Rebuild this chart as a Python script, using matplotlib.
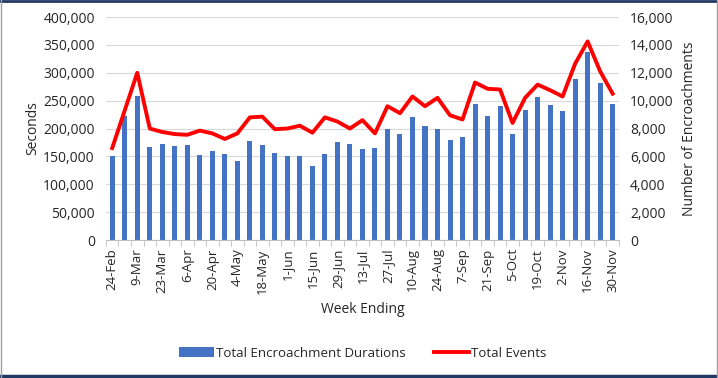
import numpy as np
import matplotlib.pyplot as plt
from matplotlib.lines import Line2D

weeks = ['24-Feb', '2-Mar', '9-Mar', '16-Mar', '23-Mar', '30-Mar', '6-Apr', '13-Apr',
         '20-Apr', '27-Apr', '4-May', '11-May', '18-May', '25-May', '1-Jun', '8-Jun',
         '15-Jun', '22-Jun', '29-Jun', '6-Jul', '13-Jul', '20-Jul', '27-Jul', '3-Aug',
         '10-Aug', '17-Aug', '24-Aug', '31-Aug', '7-Sep', '14-Sep', '21-Sep', '28-Sep',
         '5-Oct', '12-Oct', '19-Oct', '26-Oct', '2-Nov', '9-Nov', '16-Nov', '23-Nov', '30-Nov']

durations = [150000, 222000, 258000, 166000, 172500, 169500, 170000, 152000,
             159000, 155000, 142000, 177500, 171000, 156500, 151500, 150500,
             133000, 154500, 176000, 172500, 164000, 165500, 199000, 190500,
             220000, 204000, 199500, 180000, 184000, 243500, 222500, 241000,
             190500, 233000, 257000, 242000, 232000, 288000, 338000, 281500, 244500]

events = [6600, 9300, 12000, 8000, 7750, 7600, 7550, 7850,
          7650, 7250, 7650, 8800, 8850, 7950, 8000, 8200,
          7700, 8800, 8500, 8000, 8600, 7650, 9600, 9100,
          10300, 9600, 10200, 8950, 8650, 11300, 10850, 10800,
          8400, 10200, 11150, 10750, 10300, 12650, 14250, 12100, 10500]

plt.rcParams['font.family'] = ['Open Sans', 'DejaVu Sans']

fig = plt.figure(figsize=(7.18, 3.78), dpi=100)
ax = fig.add_axes([0.1476, 0.365, 0.7144, 0.59])
ax2 = ax.twinx()

x = np.arange(len(weeks))
ax.bar(x, durations, width=0.4, color='#4472C4', label='Total Encroachment Durations', zorder=2)
ax2.plot(x, events, color='#FF0000', lw=2.8, label='Total Events', zorder=3)

ax.set_xlim(-0.5, len(weeks) - 0.5)
ax.set_ylim(0, 400000)
ax2.set_ylim(0, 16000)
ax.set_yticks(np.arange(0, 400001, 50000))
ax2.set_yticks(np.arange(0, 16001, 2000))
ax.yaxis.set_major_formatter(plt.FuncFormatter(lambda v, p: f'{int(v):,}'))
ax2.yaxis.set_major_formatter(plt.FuncFormatter(lambda v, p: f'{int(v):,}'))
ax.grid(axis='y', color='#D9D9D9', lw=0.8, zorder=0)
ax.set_axisbelow(True)

# labels every second week, tick marks between every category
ax.set_xticks(x[::2])
ax.set_xticklabels(weeks[::2], rotation=90, fontsize=9.5)
ax.set_xticks(np.arange(-0.5, len(weeks), 1), minor=True)
for a in (ax, ax2):
    for s in ['top', 'left', 'right']:
        a.spines[s].set_visible(False)
    a.tick_params(axis='y', length=0, labelsize=10, colors='#262626', pad=8)
ax.spines['bottom'].set_color('#BFBFBF')
ax2.spines['bottom'].set_visible(False)
ax.tick_params(axis='x', which='major', length=0, labelcolor='#262626', pad=6)
ax.tick_params(axis='x', which='minor', length=4, color='#BFBFBF')

ax.set_ylabel('Seconds', fontsize=10, color='#262626', labelpad=2)
ax2.set_ylabel('Number of Encroachments', fontsize=10, color='#262626', labelpad=6)
ax.set_xlabel('Week Ending', fontsize=10, color='#262626', labelpad=6)

h1, l1 = ax.get_legend_handles_labels()
h2, l2 = ax2.get_legend_handles_labels()
fig.legend(h1 + h2, l1 + l2, loc='center', bbox_to_anchor=(0.505, 0.066), ncol=2,
           frameon=False, fontsize=9.5, handlelength=2.6, handletextpad=0.15,
           columnspacing=2.2, labelcolor='#262626')

# frame around the picture
fig.add_artist(Line2D([0, 1], [0.997, 0.997], color='#1F3864', lw=2, transform=fig.transFigure))
fig.add_artist(Line2D([0, 1], [0.004, 0.004], color='#1F3864', lw=2.5, transform=fig.transFigure))
fig.add_artist(Line2D([0.001, 0.001], [0, 1], color='#A0A0A0', lw=1, transform=fig.transFigure))
fig.add_artist(Line2D([0.999, 0.999], [0, 1], color='#A0A0A0', lw=1, transform=fig.transFigure))

fig.savefig('out.png', dpi=100)
